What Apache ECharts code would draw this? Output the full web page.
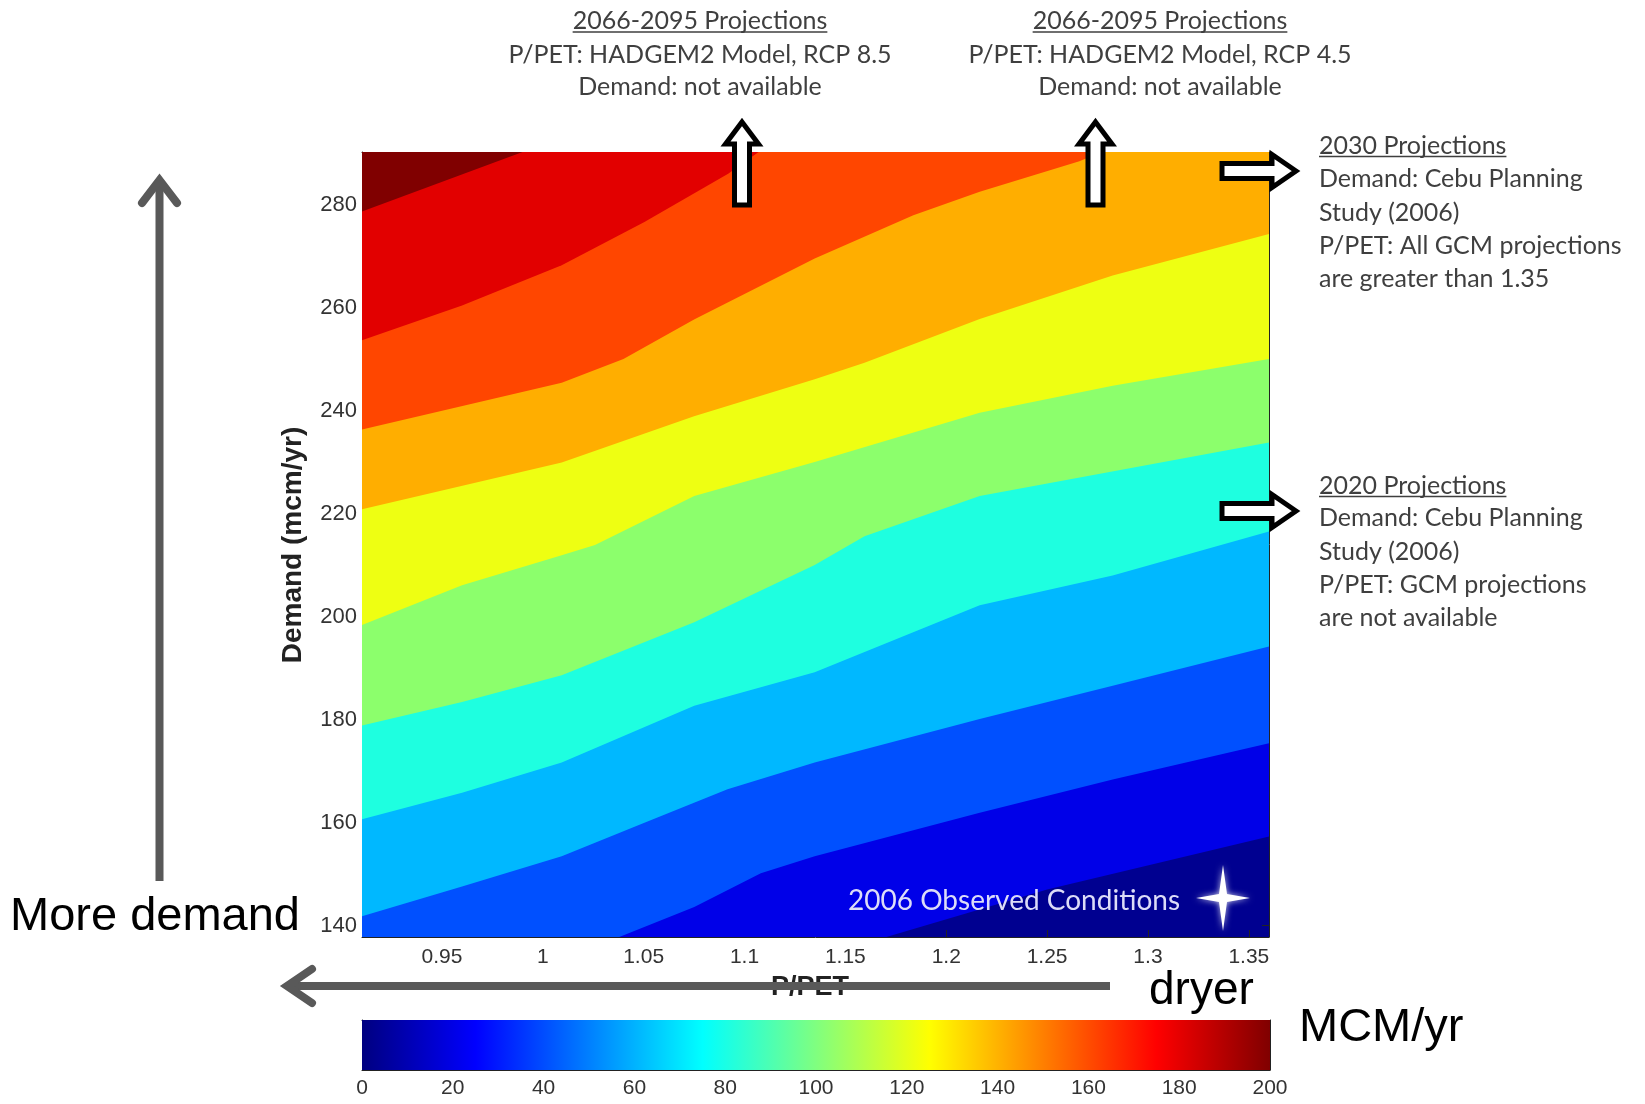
<!DOCTYPE html>
<html lang="en">
<head>
    <meta charset="UTF-8">
    <title>Demand vs P/PET</title>
    <script src="https://cdn.jsdelivr.net/npm/echarts/dist/echarts.min.js"></script>
    <style>
        body { margin: 0; background: #fff; }
        #chart1 { width: 1645px; height: 1104px; }
    </style>
</head>
<body>
<div id="chart1"></div>
<script type="text/javascript">
    // axis ranges and ticks
    var xMin = 0.9104, xMax = 1.36;
    var yMin = 137.8, yMax = 290.2;
    var xTicks = [0.95, 1, 1.05, 1.1, 1.15, 1.2, 1.25, 1.3, 1.35];
    var yTicks = [140, 160, 180, 200, 220, 240, 260, 280];

    // contour boundaries [P/PET, demand], lowest level first
    var line10 = [[0.91, 110], [1.10, 128], [1.166, 137.3], [1.25, 147.0], [1.36, 157.3]];
    var line30 = [[0.91, 112], [0.99, 129], [1.036, 137.5], [1.0751, 143.6], [1.1081, 150.2], [1.1348, 153.5], [1.2166, 161.9], [1.2825, 168.4], [1.36, 175.4]];
    var line50 = [[0.91, 141.8], [0.96, 147.6], [1.0094, 153.5], [1.0504, 160.0], [1.0916, 166.5], [1.1348, 171.7], [1.2166, 180.1], [1.2825, 186.6], [1.36, 194.2]];
    var line70 = [[0.91, 160.6], [0.96, 165.8], [1.0094, 171.7], [1.0751, 182.7], [1.1348, 189.2], [1.2166, 202.2], [1.2825, 208.0], [1.36, 216.5]];
    var line90 = [[0.91, 178.8], [0.96, 183.4], [1.0094, 188.6], [1.0751, 198.9], [1.1348, 210.0], [1.1595, 215.6], [1.2166, 223.4], [1.36, 233.8]];
    var line110 = [[0.91, 198.3], [0.96, 206.1], [1.0094, 211.9], [1.0259, 213.9], [1.0751, 223.4], [1.1348, 230.0], [1.2166, 239.6], [1.2825, 244.8], [1.36, 250.0]];
    var line130 = [[0.91, 220.8], [1.0094, 229.9], [1.075, 238.9], [1.1348, 246.1], [1.1595, 249.3], [1.2166, 257.8], [1.2825, 266.2], [1.36, 274.3]];
    var line150 = [[0.91, 236.3], [1.0094, 245.4], [1.04, 250.0], [1.075, 257.7], [1.1348, 269.5], [1.1837, 277.9], [1.2166, 282.5], [1.266, 288.4], [1.277, 290.2]];
    var line170 = [[0.91, 253.6], [0.96, 260.4], [1.0094, 268.2], [1.0504, 276.6], [1.0919, 286.0], [1.107, 290.2]];
    var line190 = [[0.91, 278.6], [0.99, 290.2]];
    var contourLines = [line10, line30, line50, line70, line90, line110, line130, line150, line170, line190];

    // jet band colours, band 0 is the plot background
    var bandColors = ['#000090', '#0000e8', '#0050ff', '#00b8ff', '#1effe0', '#8cff6c', '#eeff12', '#ffae00', '#ff4600', '#e20000', '#800000'];

    // colour bar
    var cbarMin = 0, cbarMax = 200, cbarStep = 20;
    var jetStops = [[0, '#000080'], [0.125, '#0000ff'], [0.375, '#00ffff'], [0.625, '#ffff00'], [0.875, '#ff0000'], [1, '#800000']];

    // annotation text
    var note1 = ['2066-2095 Projections', 'P/PET: HADGEM2 Model, RCP 8.5', 'Demand: not available'];
    var note2 = ['2066-2095 Projections', 'P/PET: HADGEM2 Model, RCP 4.5', 'Demand: not available'];
    var note3 = ['2030 Projections', 'Demand: Cebu Planning', 'Study (2006)', 'P/PET: All GCM projections', 'are greater than 1.35'];
    var note4 = ['2020 Projections', 'Demand: Cebu Planning', 'Study (2006)', 'P/PET: GCM projections', 'are not available'];

    var chart1 = echarts.init(document.getElementById('chart1'));

    var AX = '#222';
    var LBL = {fontSize: 21, color: '#333', fontFamily: 'Liberation Sans'};
    var NOTE_SIZE = 25;
    var NOTE_FONT = NOTE_SIZE + 'px Lato';
    var NOTE_COLOR = '#3f3f3f';

    var measure = document.createElement('canvas').getContext('2d');
    function textWidth(t, font) {
        measure.font = font;
        return measure.measureText(t).width;
    }

    var graphics = [];

    // text placed by its baseline
    function label(t, x, baseline, size, font, fill, align, z) {
        return {
            type: 'text', z: z || 100,
            style: {
                text: t, x: x, y: baseline - 0.3 * size, font: font, fill: fill,
                textAlign: align || 'left', align: align || 'left',
                textVerticalAlign: 'middle', verticalAlign: 'middle'
            }
        };
    }

    function noteBlock(lines, x, baselines, align) {
        for (var i = 0; i < lines.length; i++) {
            graphics.push(label(lines[i], x, baselines[i], NOTE_SIZE, NOTE_FONT, NOTE_COLOR, align));
        }
        var w = textWidth(lines[0], NOTE_FONT);
        var x0 = align === 'center' ? x - w / 2 : x;
        var uy = baselines[0] + 3.5;
        graphics.push({
            type: 'line', z: 100,
            shape: {x1: x0, y1: uy, x2: x0 + w, y2: uy},
            style: {stroke: NOTE_COLOR, lineWidth: 1.5}
        });
    }

    function upArrow(cx, tip, bottom) {
        return {
            type: 'polygon', z: 100,
            shape: {points: [[cx, tip], [cx + 16.5, tip + 22], [cx + 7.5, tip + 22], [cx + 7.5, bottom], [cx - 7.5, bottom], [cx - 7.5, tip + 22], [cx - 16.5, tip + 22]]},
            style: {fill: '#fff', stroke: '#000', lineWidth: 5, lineJoin: 'miter'}
        };
    }

    function rightArrow(cy, tail, tip) {
        return {
            type: 'polygon', z: 100,
            shape: {points: [[tip, cy], [tip - 24, cy - 16.5], [tip - 24, cy - 7.5], [tail, cy - 7.5], [tail, cy + 7.5], [tip - 24, cy + 7.5], [tip - 24, cy + 16.5]]},
            style: {fill: '#fff', stroke: '#000', lineWidth: 5, lineJoin: 'miter'}
        };
    }

    noteBlock(note1, 700, [28.5, 62, 94.5], 'center');
    noteBlock(note2, 1160, [28.5, 62, 94.5], 'center');
    noteBlock(note3, 1319, [153, 186.5, 220, 253, 286.5], 'left');
    noteBlock(note4, 1319, [493, 525.5, 559, 592.5, 625.5], 'left');

    graphics.push(upArrow(742, 122, 205));
    graphics.push(upArrow(1095.5, 122, 205));
    graphics.push(rightArrow(171, 1222, 1296));
    graphics.push(rightArrow(511, 1222, 1296));

    // axis names (P/PET sits under the grey arrow)
    graphics.push({
        type: 'text', z: 90,
        style: {text: 'P/PET', x: 810, y: 988, font: 'bold 27px Liberation Sans', fill: '#222',
            textAlign: 'center', align: 'center', textVerticalAlign: 'middle', verticalAlign: 'middle'}
    });
    graphics.push({
        type: 'text', z: 90, x: 293, y: 545, rotation: Math.PI / 2,
        style: {text: 'Demand (mcm/yr)', x: 0, y: 0, font: 'bold 28px Liberation Sans', fill: '#222',
            textAlign: 'center', align: 'center', textVerticalAlign: 'middle', verticalAlign: 'middle'}
    });

    // grey arrows
    var GREY = '#595959';
    graphics.push({type: 'line', z: 101, shape: {x1: 159.5, y1: 881, x2: 159.5, y2: 182}, style: {stroke: GREY, lineWidth: 8}});
    graphics.push({type: 'polyline', z: 101, shape: {points: [[142, 203], [159.5, 180], [177, 203]]},
        style: {stroke: GREY, lineWidth: 8, lineCap: 'round', lineJoin: 'miter', fill: null}});
    graphics.push({type: 'line', z: 101, shape: {x1: 1110, y1: 986, x2: 289, y2: 986}, style: {stroke: GREY, lineWidth: 8}});
    graphics.push({type: 'polyline', z: 101, shape: {points: [[312, 969], [287, 986], [312, 1003]]},
        style: {stroke: GREY, lineWidth: 8, lineCap: 'round', lineJoin: 'miter', fill: null}});

    // big labels
    graphics.push(label('More demand', 10, 931, 47, '47px Liberation Sans', '#000'));
    graphics.push(label('dryer', 1149, 1005, 46, '46px Liberation Sans', '#000'));
    graphics.push(label('MCM/yr', 1299, 1042, 47, '47px Liberation Sans', '#000'));

    // observed conditions marker
    var sx = 1223, sy = 898;
    graphics.push({
        type: 'polygon', z: 100,
        shape: {points: [[sx, sy - 33], [sx + 4, sy - 4], [sx + 27, sy], [sx + 4, sy + 4], [sx, sy + 33], [sx - 4, sy + 4], [sx - 27, sy], [sx - 4, sy - 4]]},
        style: {fill: '#fff', shadowBlur: 6, shadowColor: 'rgba(255,255,255,0.8)'}
    });
    graphics.push({type: 'text', z: 100, style: {text: '2006 Observed Conditions', x: 1180, y: 901, font: '28px Lato', fill: '#dcdcf8',
        textAlign: 'right', align: 'right', textVerticalAlign: 'middle', verticalAlign: 'middle'}});

    var series = contourLines.map(function (d, i) {
        return {
            type: 'line', xAxisIndex: 0, yAxisIndex: 0, data: d,
            symbol: 'none', showSymbol: false, silent: true, clip: true,
            lineStyle: {width: 0, opacity: 0},
            areaStyle: {origin: 'end', color: bandColors[i + 1], opacity: 1}
        };
    });
    series.push({
        type: 'line', xAxisIndex: 2, yAxisIndex: 2, data: [[cbarMin, 1], [cbarMax, 1]],
        symbol: 'none', silent: true, lineStyle: {width: 0, opacity: 0},
        areaStyle: {
            origin: 'start', opacity: 1,
            color: {type: 'linear', x: 0, y: 0, x2: 1, y2: 0,
                colorStops: jetStops.map(function (s) { return {offset: s[0], color: s[1]}; })}
        }
    });

    function frameAxis(extra) {
        var base = {
            type: 'value', splitLine: {show: false},
            axisLine: {show: true, onZero: false, lineStyle: {color: AX, width: 1}},
            axisTick: {show: true, inside: true, length: 7, lineStyle: {color: AX}},
            axisLabel: {show: false}
        };
        for (var k in extra) base[k] = extra[k];
        return base;
    }

    option = {
        backgroundColor: '#fff',
        animation: false,
        grid: [
            {left: 362, top: 152, width: 907, height: 785, show: true, backgroundColor: bandColors[0], borderWidth: 0},
            {left: 362, top: 1020, width: 908, height: 50, show: false}
        ],
        xAxis: [
            frameAxis({gridIndex: 0, position: 'bottom', min: xMin, max: xMax,
                axisTick: {show: true, inside: true, length: 7, customValues: xTicks, lineStyle: {color: AX}},
                axisLabel: Object.assign({show: true, margin: 10, customValues: xTicks}, LBL)}),
            frameAxis({gridIndex: 0, position: 'top', min: xMin, max: xMax,
                axisTick: {show: true, inside: true, length: 7, customValues: xTicks, lineStyle: {color: AX}}}),
            frameAxis({gridIndex: 1, position: 'bottom', min: cbarMin, max: cbarMax, interval: cbarStep,
                axisTick: {show: true, inside: true, length: 6, lineStyle: {color: AX}},
                axisLabel: Object.assign({show: true, margin: 8}, LBL)}),
            frameAxis({gridIndex: 1, position: 'top', min: cbarMin, max: cbarMax, interval: cbarStep,
                axisTick: {show: true, inside: true, length: 6, lineStyle: {color: AX}}})
        ],
        yAxis: [
            frameAxis({gridIndex: 0, position: 'left', min: yMin, max: yMax,
                axisTick: {show: true, inside: true, length: 7, customValues: yTicks, lineStyle: {color: AX}},
                axisLabel: Object.assign({show: true, margin: 5, customValues: yTicks}, LBL, {fontSize: 22})}),
            frameAxis({gridIndex: 0, position: 'right', min: yMin, max: yMax,
                axisTick: {show: true, inside: true, length: 7, customValues: yTicks, lineStyle: {color: AX}}}),
            frameAxis({gridIndex: 1, position: 'left', min: 0, max: 1, axisTick: {show: false}}),
            frameAxis({gridIndex: 1, position: 'right', min: 0, max: 1, axisTick: {show: false}})
        ],
        graphic: {elements: graphics},
        series: series
    };
    chart1.setOption(option);
</script>
</body>
</html>
